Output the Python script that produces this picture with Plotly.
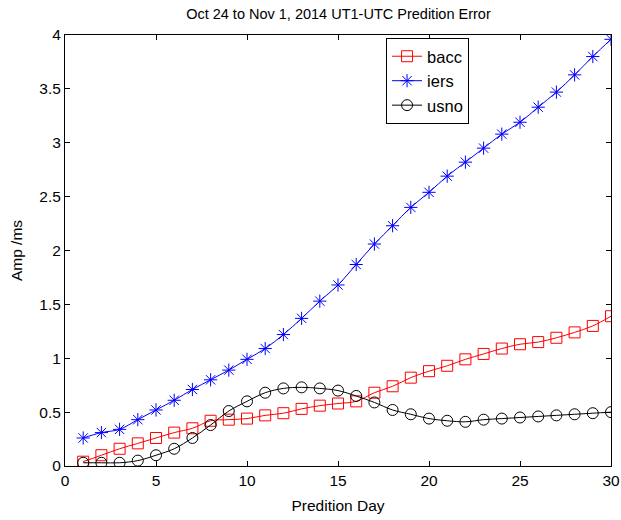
import plotly.graph_objects as go

days = list(range(1, 31))
bacc = [0.04, 0.10, 0.16, 0.21, 0.26, 0.31, 0.35, 0.42, 0.43, 0.44,
        0.47, 0.49, 0.53, 0.56, 0.58, 0.60, 0.68, 0.74, 0.82, 0.88,
        0.93, 0.99, 1.04, 1.09, 1.13, 1.15, 1.19, 1.24, 1.30, 1.39]
iers = [0.26, 0.31, 0.34, 0.43, 0.52, 0.61, 0.71, 0.80, 0.89, 0.99,
        1.09, 1.22, 1.37, 1.53, 1.68, 1.87, 2.06, 2.23, 2.40, 2.54,
        2.69, 2.82, 2.95, 3.08, 3.19, 3.33, 3.47, 3.63, 3.80, 3.96]
usno = [0.03, 0.03, 0.03, 0.05, 0.10, 0.16, 0.26, 0.38, 0.51, 0.60,
        0.68, 0.72, 0.73, 0.72, 0.70, 0.65, 0.59, 0.52, 0.48, 0.44,
        0.42, 0.41, 0.43, 0.44, 0.45, 0.46, 0.47, 0.48, 0.49, 0.50]
x_ticks = [0, 5, 10, 15, 20, 25, 30]
y_ticks = [0, 0.5, 1, 1.5, 2, 2.5, 3, 3.5, 4]
y_tick_labels = ["0", "0.5", "1", "1.5", "2", "2.5", "3", "3.5", "4"]

fig = go.Figure()
fig.add_trace(go.Scatter(x=days, y=bacc, name="bacc", mode="lines+markers",
                         line=dict(color="#ff0000", width=1, shape="spline"),
                         marker=dict(symbol="square-open", size=11, color="#ff0000", line=dict(width=1))))
fig.add_trace(go.Scatter(x=days, y=iers, name="iers", mode="lines+markers",
                         line=dict(color="#0000ff", width=1, shape="spline"),
                         marker=dict(symbol="asterisk-open", size=11, color="#0000ff", line=dict(width=1, color="#0000ff"))))
fig.add_trace(go.Scatter(x=days, y=usno, name="usno", mode="lines+markers",
                         line=dict(color="#000000", width=1, shape="spline"),
                         marker=dict(symbol="circle-open", size=11, color="#000000", line=dict(width=1))))

axis_common = dict(showgrid=False, zeroline=False, showline=True, linecolor="black", linewidth=1,
                   mirror="allticks", ticks="inside", ticklen=5, tickcolor="black",
                   ticklabeloverflow="allow", automargin=False,
                   tickfont=dict(family="Liberation Sans, Arial", size=15.5, color="black"))
fig.update_layout(
    width=621, height=520,
    margin=dict(l=65, r=10, t=35, b=54),
    paper_bgcolor="white", plot_bgcolor="white",
    font=dict(family="Liberation Sans, Arial", size=14, color="black"),
    title=dict(text="Oct 24 to Nov 1, 2014 UT1-UTC Predition Error", x=0.545, xanchor="center",
               y=0.973, yanchor="middle", font=dict(size=14.5)),
    xaxis=dict(range=[0, 30], tickvals=x_ticks,
               title=dict(text="Predition Day", font=dict(size=15.5), standoff=12), **axis_common),
    yaxis=dict(range=[0, 4], tickvals=y_ticks, ticktext=y_tick_labels,
               title=dict(text="Amp /ms", font=dict(size=15.5), standoff=12), **axis_common),
    legend=dict(x=0.588, y=0.993, xanchor="left", yanchor="top", bordercolor="black", borderwidth=1,
                bgcolor="white", font=dict(size=16.5), tracegroupgap=0),
    showlegend=True,
)
fig.write_html("out.html")
